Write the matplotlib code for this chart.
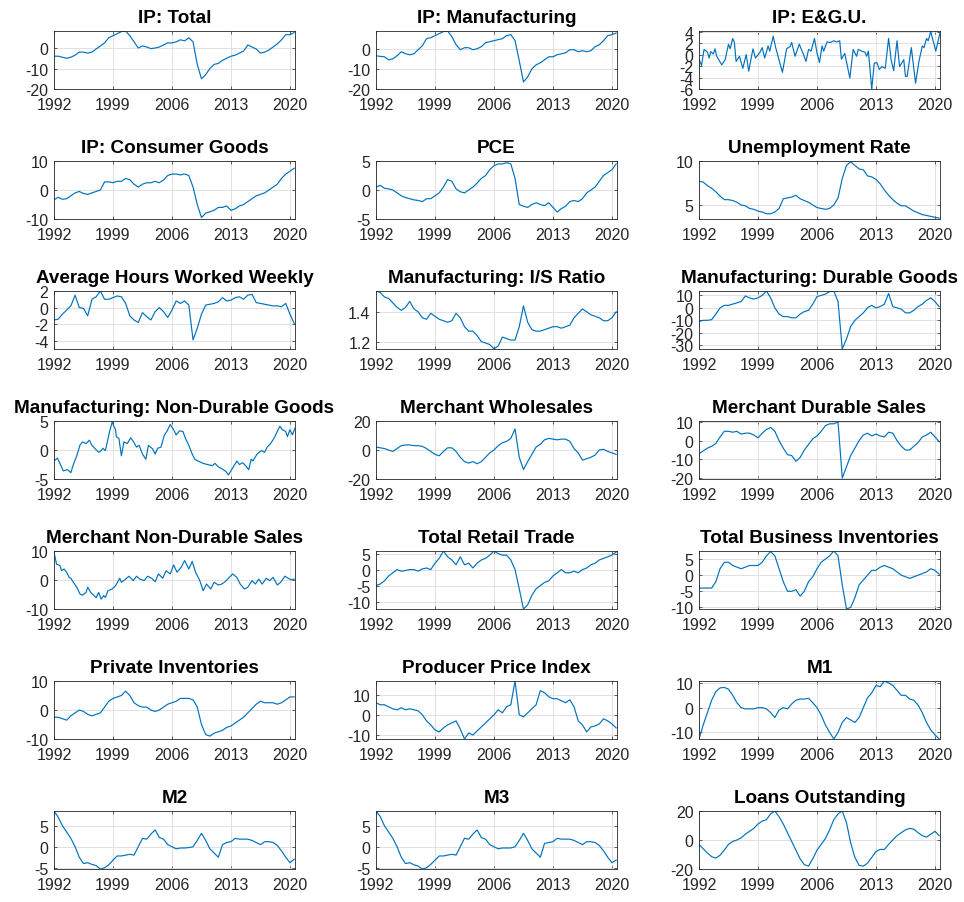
import numpy as np
import matplotlib
matplotlib.use("Agg")
import matplotlib.pyplot as plt

plt.rcParams['font.family'] = ['Liberation Sans', 'DejaVu Sans']

# Semi-annual sample dates shared by the smoother series (1992.0 ... 2020.5)
half_years = np.arange(1992, 2020.51, 0.5)

# Series values, one row per five years (10 half-year points per row)
ip_total = [-4, -4, -4.5, -5, -4.5, -3.5, -2, -2, -2.5, -2,
            -0.5, 1, 2.5, 5, 6, 7, 8, 8.3, 6, 3,
            0, 1, 0.5, -0.3, 0, 0.5, 1.5, 2.5, 2.5, 3,
            4, 3.5, 5, 3, -8, -15, -13, -10, -8, -7.5,
            -6, -5, -4, -3.5, -2.5, -1.5, 1.5, 0.5, -0.5, -2.5,
            -2, -1, 0.5, 2, 4, 6.5, 6.5, 7.5]
ip_mfg = [-3.5, -3.8, -4, -5.5, -5, -3.5, -1.5, -2.5, -3, -2.5,
          -0.5, 1.5, 5, 5.5, 6.5, 7.5, 8.5, 8.8, 6, 2,
          -0.5, 0.5, 0.5, -0.5, 0, 1, 3, 3.5, 4, 4.5,
          5, 6.5, 7, 4, -6, -16.5, -14, -10, -8, -7,
          -5.5, -4, -4, -3, -2.5, -2, -0.5, -0.5, -1.5, -1,
          -1.5, -1, 1, 2, 4, 6.5, 7, 7.8]
ip_cons = [-3.4, -2.5, -3.2, -3, -2, -1, -0.5, -1.2, -1.5, -1,
           -0.5, 0, 2.8, 2.8, 2.5, 3, 3, 4, 3.5, 2,
           1, 2, 2.5, 2.5, 3, 2.5, 3.5, 5, 5.5, 5.5,
           5.2, 5.5, 5, 1, -5, -9.5, -8, -7.5, -7, -6,
           -6, -5.5, -7, -6.5, -5.5, -5, -4, -3, -2, -1.5,
           -1, 0, 1, 2, 4, 5.5, 6.5, 7.5]
pce = [0.5, 0.8, 0.3, 0.2, 0, -0.5, -1, -1.3, -1.5, -1.7,
       -1.8, -2, -1.5, -1.5, -1, -0.5, 0.5, 1.8, 1.5, 0.2,
       -0.3, -0.5, 0, 0.5, 1.2, 2, 2.5, 3.5, 4.2, 4.5,
       4.5, 4.7, 4.5, 2, -2.5, -2.8, -3, -2.5, -2.2, -2.5,
       -2.7, -2.2, -3, -3.8, -3.2, -2.8, -2, -1.8, -2, -1.5,
       -0.5, 0, 0.5, 1.5, 2.5, 3, 3.5, 4.5]
unemp = [7.7, 7.6, 7.2, 6.9, 6.5, 6.0, 5.6, 5.6, 5.5, 5.3,
         5.0, 4.9, 4.6, 4.5, 4.3, 4.2, 4.0, 4.0, 4.2, 4.6,
         5.7, 5.8, 5.9, 6.1, 5.7, 5.5, 5.3, 5.0, 4.7, 4.6,
         4.5, 4.6, 5.0, 5.8, 8.0, 9.5, 9.9, 9.5, 9.1, 9.0,
         8.3, 8.2, 7.9, 7.4, 6.7, 6.1, 5.6, 5.2, 4.9, 4.9,
         4.6, 4.3, 4.1, 3.9, 3.8, 3.7, 3.6, 3.5]
hours = [-1.5, -1.4, -0.8, -0.3, 0.2, 1.5, 0.0, -0.1, -1.0, 1.0,
         1.3, 2.0, 1.0, 1.0, 1.2, 1.4, 1.3, 0.5, -1.0, -1.5,
         -1.8, -0.6, -1.1, -1.5, -0.5, 0.0, -0.5, -1.2, -0.3, 0.8,
         0.5, 0.8, 0.3, -3.9, -2.5, -0.8, 0.3, 0.4, 0.5, 0.7,
         1.2, 0.8, 0.9, 1.2, 1.3, 1.0, 1.5, 1.6, 0.6, 0.5,
         0.4, 0.3, 0.2, 0.2, 0.1, 0.5, -0.8, -1.9]
is_ratio = [1.54, 1.53, 1.50, 1.49, 1.46, 1.43, 1.41, 1.43, 1.47, 1.42,
            1.40, 1.36, 1.35, 1.39, 1.37, 1.35, 1.34, 1.33, 1.34, 1.39,
            1.36, 1.30, 1.27, 1.27, 1.24, 1.20, 1.19, 1.18, 1.15, 1.17,
            1.23, 1.22, 1.21, 1.21, 1.30, 1.44, 1.33, 1.28, 1.27, 1.27,
            1.28, 1.29, 1.30, 1.30, 1.29, 1.30, 1.31, 1.36, 1.39, 1.42,
            1.40, 1.38, 1.37, 1.36, 1.34, 1.34, 1.36, 1.40]
dur_goods = [-11, -10, -10, -9.5, -5, 0, 2, 2, 3, 4,
             5, 9.5, 8, 7, 8, 10, 13.5, 8, 0, -5,
             -7, -7, -8, -8, -5, -3, -2, 3, 9, 10,
             11, 13, 13.5, 5, -33, -25, -15, -10, -7, -4,
             0, 2, 0, 1, 3, 11.5, 1, 0, -1, -4,
             -4, -2, 1, 3, 6, 8, 5, 1]
wholesale = [2, 1.5, 1, 0, -1, 1, 3, 3.5, 3.5, 3,
             3, 2.5, 1, -1, -3, -4, -1, 1.5, 1.5, -1,
             -5, -8, -9, -8, -9.5, -8, -5, -2, 0, 3,
             5, 6, 8, 14.5, -5, -13.5, -8, -3, 2, 4,
             7, 8, 7.5, 7, 7.5, 7.5, 6, 1, -2, -7,
             -6, -5, -3.5, 0, 0.5, -1, -2, -3]
merch_dur = [-7, -5.5, -4, -3, -1.5, 2, 5, 5, 4.5, 5,
             3.5, 4, 4, 3, 1.5, 4, 6, 7, 5, 0,
             -4, -7.5, -8, -11, -9, -5, -2, 1, 2.5, 5,
             8, 9, 9, 10, -20, -14, -8, -4, 0, 3,
             4, 2.5, 3.5, 2.5, 2, 4.5, 4, 0, -3, -5,
             -5, -3, -1, 2, 3, 4.5, 2, -0.5]
retail = [-5, -4.5, -3.5, -2, -1, 0, -0.5, -0.3, 0, 0,
          -0.5, 0.2, 0.5, 0, 2, 3.5, 5.8, 4, 3, 1.5,
          4, 1.5, 2, 0.5, 2, 3, 3.5, 4.5, 5.8, 5,
          4.5, 4.5, 3, 0, -6, -12.3, -11, -8, -6, -5,
          -4, -3.5, -2, -1, 0, -1, -1, -0.5, -1, 0,
          0.5, 1.5, 2, 3, 3.5, 4, 4.5, 5.5]
bus_inv = [-4, -4, -4, -4, -2, 2, 4, 4, 3, 2.5,
           2, 2.5, 3, 3, 3, 4, 6, 7.3, 6, 2,
           -2, -5, -5, -4.5, -6.5, -5, -2, -0.5, 2, 4,
           5, 6, 7.5, 6, -3, -10.5, -10, -7, -3, -1.5,
           0, 1.5, 1.5, 2.5, 3, 2.5, 2, 1, 0, -0.5,
           -1, -0.5, 0, 0.5, 1, 2, 1.5, 0.3]
priv_inv = [-2.5, -2.5, -3, -3.5, -2, -1, 0, -0.5, -1.5, -2,
            -1.5, -1, 1, 3, 4, 4.5, 5, 6.5, 5, 2.5,
            1.5, 1, 1, 0, -0.5, 0, 1, 2, 2.5, 3,
            4, 4, 4, 3.5, 1, -5, -8.5, -9, -8, -7.5,
            -7, -6, -5.5, -4.5, -3.5, -2.5, -1, 0.5, 2, 3,
            2.5, 2.5, 2.5, 2, 2.5, 3.5, 4.5, 4.5]
ppi = [6, 5, 5, 4, 3, 2.5, 3.5, 2.5, 3, 2.5,
       2, 0, -3, -5, -7.5, -8.5, -6.5, -5, -4, -3,
       -7, -12, -9, -10, -8, -6, -4, -2, 0, 2.5,
       1, 4, 5, 16.8, 0, -1, 1, 3, 5, 12,
       11, 9, 8, 8, 7, 6, 7.5, 4, -3, -5,
       -8.5, -6, -5.5, -4.5, -2, -3, -4.5, -6.5]
m1 = [-12.7, -7, -2, 3, 6.5, 8, 8.2, 7.5, 5, 2,
      0, -0.5, -0.5, -0.5, 0, 0, -0.5, -2, -4, -1,
      0, -0.5, 1.5, 3, 3.5, 3.5, 3.8, 2, 0, -3,
      -7, -10, -12.7, -10, -6, -4, -5, -6, -4, 0,
      4, 6, 9, 8.5, 10.8, 10, 9, 7, 5, 5,
      3.5, 3, 1, -2, -6, -9, -11, -12.7]
m2 = [8.5, 7, 5, 3.5, 2, 0, -2.5, -4, -3.8, -4.2,
      -4.5, -5.3, -5, -4.3, -3.2, -2.2, -2.2, -2, -1.8, -2,
      0, 2, 1.8, 3, 4, 2.2, 1.8, 0.5, 0, -0.5,
      -0.3, -0.3, -0.2, 0, 1.5, 3.2, 1.5, -0.5, -1.5, -2.5,
      0.5, 1, 1.2, 2, 1.8, 1.8, 1.8, 1.5, 1, 0.5,
      1.2, 1.2, 1, 0.3, -1, -2.5, -3.8, -3]
m3 = [8.5, 7.2, 5, 3.5, 2, 0, -2.5, -4, -3.8, -4.3,
      -4.6, -5.3, -5, -4.2, -3.2, -2.2, -2.2, -2, -1.8, -2,
      0, 2, 1.8, 3, 4, 2.2, 1.8, 0.5, 0, -0.5,
      -0.3, -0.3, -0.3, 0, 1.5, 3.2, 1.5, -0.5, -1.5, -2.5,
      0.8, 1, 1.2, 2, 1.8, 1.8, 1.8, 1.5, 1, 0.5,
      1.2, 1.2, 1, 0.3, -1, -2.5, -3.8, -3.2]
loans = [-3, -6, -9, -11.5, -12.5, -10.5, -7, -3, -1, 0,
         1.5, 4, 6, 8, 11, 13, 14, 18, 20, 16,
         11, 5, -1, -7, -13, -17, -18, -13, -7, -3,
         1, 7, 14, 18, 20, 12, -2, -12, -17.5, -18,
         -16, -12, -8, -6.5, -6.5, -3, 0, 3, 5, 7,
         8, 7.5, 5, 3, 2, 4, 6, 3]

# Noisier series are kept with their own (irregular) sample dates
egu_years = [1992.0, 1992.3, 1992.6, 1993.0, 1993.2, 1993.4, 1993.7, 1993.9, 1994.1, 1994.7,
             1995.1, 1995.5, 1995.7, 1996.0, 1996.2, 1996.4, 1996.8, 1997.2, 1997.6, 1997.9,
             1998.4, 1998.7, 1999.2, 1999.5, 1999.8, 2000.2, 2000.4, 2000.8, 2001.1, 2001.9,
             2002.4, 2002.8, 2003.0, 2003.4, 2003.9, 2004.4, 2004.7, 2005.0, 2005.3, 2005.7,
             2006.0, 2006.3, 2006.6, 2006.8, 2007.2, 2007.6, 2008.0, 2008.3, 2008.7, 2008.9,
             2009.3, 2009.9, 2010.3, 2010.7, 2010.9, 2011.3, 2011.7, 2011.9, 2012.1, 2012.5,
             2012.8, 2013.1, 2013.4, 2013.7, 2014.1, 2014.5, 2014.8, 2015.1, 2015.5, 2015.8,
             2016.3, 2016.5, 2016.7, 2017.2, 2017.7, 2018.1, 2018.5, 2018.7, 2019.0, 2019.2,
             2019.5, 2020.1, 2020.6]
egu_vals = [-0.8, -1.9, 0.9, 0.4, -0.6, 0.5, 0.1, 1.0, -0.3, -1.8,
            -0.9, 1.8, 1.0, 2.8, 2.1, -1.2, -0.3, -2.4, 0.0, -2.9,
            1.0, -0.6, 0.3, 1.2, -0.6, 1.5, 0.6, 3.2, 1.2, -3.1,
            1.0, 1.4, 2.1, -0.3, 1.8, 0.0, -1.2, 0.9, 0.6, 2.8,
            0.3, -1.4, 1.5, 0.6, 2.2, 2.1, 2.4, 2.2, 2.4, -0.8,
            0.2, -4.1, 0.9, -0.3, 0.9, 0.6, 0.4, -0.3, 0.6, -6.0,
            -1.5, -1.4, -2.6, -2.1, -2.4, 2.8, -0.9, -2.8, 2.4, -2.1,
            -0.9, -3.8, -3.8, 1.2, -5.0, -1.2, 1.5, 1.2, 2.8, 2.4,
            4.0, 0.6, 3.8]

nondur_years = [1992.0, 1992.4, 1992.7, 1993.1, 1993.6, 1994.0, 1994.3, 1994.7, 1995.1, 1995.4,
                1995.8, 1996.2, 1996.5, 1996.9, 1997.3, 1997.6, 1997.8, 1998.1, 1998.6, 1998.9,
                1999.3, 1999.4, 1999.7, 2000.0, 2000.3, 2000.7, 2001.1, 2001.4, 2001.8, 2002.1,
                2002.5, 2002.9, 2003.2, 2003.7, 2004.0, 2004.3, 2004.7, 2005.1, 2005.4, 2005.8,
                2006.2, 2006.5, 2006.9, 2007.3, 2007.6, 2008.0, 2008.4, 2008.7, 2009.1, 2009.7,
                2010.2, 2010.8, 2011.1, 2011.5, 2012.0, 2012.4, 2012.7, 2013.2, 2013.7, 2014.0,
                2014.4, 2014.8, 2015.1, 2015.4, 2015.6, 2016.1, 2016.6, 2017.0, 2017.3, 2017.7,
                2018.1, 2018.4, 2018.8, 2019.1, 2019.5, 2019.7, 2020.0, 2020.3, 2020.6]
nondur_vals = [-1.9, -1.4, -2.3, -3.6, -3.4, -3.9, -2.5, -1.0, 0.9, 1.4,
               1.1, 1.7, 0.8, 0.2, -0.4, -0.1, 0.3, -0.1, 3.2, 4.8,
               3.5, 2.3, 2.0, -1.0, 1.4, 1.1, 2.1, 1.5, 0.5, 0.8,
               -0.7, -1.6, 0.8, 0.2, -0.7, 0.3, 0.5, 2.6, 3.2, 4.4,
               3.5, 2.6, 3.3, 3.2, 2.0, 0.8, -0.7, -1.6, -1.9, -2.3,
               -2.5, -2.7, -2.3, -2.9, -3.3, -3.7, -4.3, -3.1, -1.9, -2.5,
               -2.2, -2.8, -3.4, -1.6, -1.9, -0.7, -0.1, -0.4, 0.5, 1.1,
               2.0, 2.9, 4.1, 3.5, 3.2, 2.3, 3.5, 2.6, 3.8]

merch_nondur_years = [1992.0, 1992.3, 1992.7, 1992.9, 1993.2, 1993.5, 1993.8, 1994.0, 1994.3, 1994.7,
                      1995.1, 1995.4, 1995.8, 1996.0, 1996.4, 1996.7, 1997.0, 1997.3, 1997.6, 1997.9,
                      1998.1, 1998.4, 1998.9, 1999.3, 1999.8, 2000.0, 2000.5, 2000.9, 2001.4, 2001.8,
                      2002.2, 2002.7, 2003.1, 2003.6, 2004.0, 2004.4, 2004.9, 2005.3, 2005.8, 2006.2,
                      2006.6, 2007.1, 2007.5, 2008.0, 2008.4, 2008.8, 2009.3, 2009.7, 2010.1, 2010.6,
                      2011.0, 2011.5, 2011.9, 2012.3, 2012.8, 2013.2, 2013.7, 2014.1, 2014.6, 2015.0,
                      2015.5, 2015.9, 2016.3, 2016.7, 2017.2, 2017.6, 2018.0, 2018.5, 2018.9, 2019.4,
                      2019.8, 2020.1, 2020.5]
merch_nondur_vals = [9.6, 5.5, 5.0, 3.2, 3.8, 2.7, 0.9, 0.6, -0.8, -2.5,
                     -4.9, -5.2, -4.3, -2.5, -4.5, -5.2, -6.1, -4.3, -6.6, -5.4,
                     -6.0, -3.7, -3.1, -2.0, 0.6, -0.8, 0.3, 1.3, -0.2, 1.3,
                     0.3, -0.2, 1.3, 0.6, -0.6, 2.1, 0.6, 3.2, 2.1, 5.2,
                     2.7, 4.4, 6.7, 3.8, 6.4, 2.7, -0.2, -3.7, -1.4, -3.1,
                     -0.8, -1.7, -1.4, -0.6, 0.9, 2.1, 0.9, -1.4, -3.1, -2.5,
                     -0.2, -1.4, 0.3, -1.4, 0.6, -0.2, 0.9, -1.7, -0.8, 1.3,
                     0.6, 0.1, 0.3]

year_ticks = [1992, 1999, 2006, 2013, 2020]

# Panel specs in reading order: title, x, y, y-limits, y-ticks
panels = [
    ("IP: Total", half_years, ip_total, (-20, 8.3), [-20, -10, 0]),
    ("IP: Manufacturing", half_years, ip_mfg, (-20, 8.8), [-20, -10, 0]),
    ("IP: E&G.U.", egu_years, egu_vals, (-6, 4.1), [-6, -4, -2, 0, 2, 4]),
    ("IP: Consumer Goods", half_years, ip_cons, (-10, 10), [-10, 0, 10]),
    ("PCE", half_years, pce, (-5, 5), [-5, 0, 5]),
    ("Unemployment Rate", half_years, unemp, (3.4, 10), [5, 10]),
    ("Average Hours Worked Weekly", half_years, hours, (-5, 2), [-4, -2, 0, 2]),
    ("Manufacturing: I/S Ratio", half_years, is_ratio, (1.15, 1.54), [1.2, 1.4]),
    ("Manufacturing: Durable Goods", half_years, dur_goods, (-33, 13.5), [-30, -20, -10, 0, 10]),
    ("Manufacturing: Non-Durable Goods", nondur_years, nondur_vals, (-5, 5), [-5, 0, 5]),
    ("Merchant Wholesales", half_years, wholesale, (-20, 20), [-20, 0, 20]),
    ("Merchant Durable Sales", half_years, merch_dur, (-20.5, 10.5), [-20, -10, 0, 10]),
    ("Merchant Non-Durable Sales", merch_nondur_years, merch_nondur_vals, (-10, 10), [-10, 0, 10]),
    ("Total Retail Trade", half_years, retail, (-12.3, 5.8), [-10, -5, 0, 5]),
    ("Total Business Inventories", half_years, bus_inv, (-10.5, 7.5), [-10, -5, 0, 5]),
    ("Private Inventories", half_years, priv_inv, (-10, 10), [-10, 0, 10]),
    ("Producer Price Index", half_years, ppi, (-12, 16.8), [-10, 0, 10]),
    ("M1", half_years, m1, (-12.7, 10.8), [-10, 0, 10]),
    ("M2", half_years, m2, (-5.3, 8.5), [-5, 0, 5]),
    ("M3", half_years, m3, (-5.3, 8.5), [-5, 0, 5]),
    ("Loans Outstanding", half_years, loans, (-20, 20), [-20, 0, 20]),
]

# Grid geometry in pixels (figure is 964 x 903 at 100 dpi)
FIG_W, FIG_H = 964, 903
COL_LEFT = [54, 376, 699]
AX_W, AX_H = 241, 58
ROW_TOP0, ROW_STEP = 32, 130

LINE_COLOR = '#0072BD'
AXIS_COLOR = '#262626'


def draw_panel(ax, title, x, y, ylim, yticks):
    """Draw one series with the boxed, gridded look used across the figure."""
    ax.plot(x, y, color=LINE_COLOR, lw=0.85)
    ax.set_xlim(1992, 2020.6)
    ax.set_ylim(*ylim)
    ax.set_xticks(year_ticks)
    ax.set_yticks(yticks)
    ax.set_yticklabels([f"{t:g}" for t in yticks])
    ax.grid(True, color='#dcdcdc', lw=0.6)
    ax.set_axisbelow(True)
    for sp in ax.spines.values():
        sp.set_color(AXIS_COLOR)
        sp.set_linewidth(0.6)
    ax.tick_params(direction='in', length=2.5, width=0.5, top=True, right=True,
                   labelsize=11.5, colors=AXIS_COLOR)
    ax.tick_params(axis='x', pad=6)
    ax.tick_params(axis='y', pad=4)
    ax.set_title(title, fontsize=13.6, fontweight='bold', pad=6.5)


fig = plt.figure(figsize=(FIG_W / 100, FIG_H / 100), dpi=100)

for idx, (title, x, y, ylim, yticks) in enumerate(panels):
    row, col = divmod(idx, 3)
    top = ROW_TOP0 + ROW_STEP * row
    rect = [COL_LEFT[col] / FIG_W, 1 - (top + AX_H) / FIG_H, AX_W / FIG_W, AX_H / FIG_H]
    ax = fig.add_axes(rect)
    draw_panel(ax, title, x, y, ylim, yticks)

fig.savefig('out.png', dpi=100)
